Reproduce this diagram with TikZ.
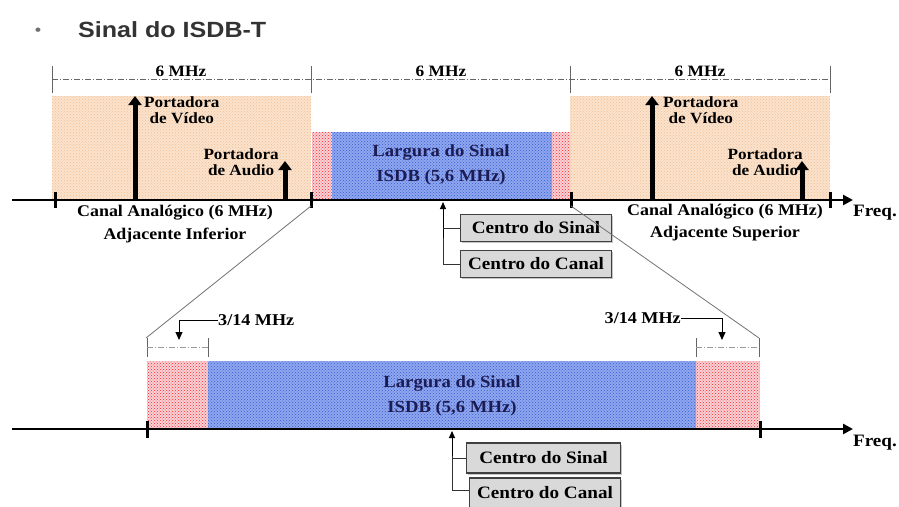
\documentclass[tikz,border=0pt]{standalone}
\usepackage{fontspec}
\setmainfont{Liberation Serif}[FakeStretch=1.1]
\newfontfamily\titlefont{Liberation Sans}[FakeStretch=1.14]
\usetikzlibrary{patterns,arrows.meta,shadows}
\definecolor{peach}{HTML}{FBE2CC}
\definecolor{peachdot}{HTML}{EFBF95}
\definecolor{sigblue}{HTML}{8EA7EE}
\definecolor{sigbluedot}{HTML}{3A5BD0}
\definecolor{pinkbase}{HTML}{F8D2D7}
\definecolor{navy}{HTML}{1C1C55}
\definecolor{boxgray}{HTML}{D9D9D9}
\definecolor{titlegray}{HTML}{333333}
\tikzset{
  lbl/.style={font=\bfseries\fontsize{15.6}{16}\selectfont, inner sep=0pt},
  biglbl/.style={font=\bfseries\fontsize{16.3}{16}\selectfont, inner sep=0pt},
  dimlbl/.style={font=\bfseries\fontsize{15.8}{15}\selectfont, inner sep=0pt},
  fraclbl/.style={font=\bfseries\fontsize{16.5}{16}\selectfont, inner sep=0pt},
  siglbl/.style={font=\bfseries\fontsize{17}{17}\selectfont, text=navy, inner sep=0pt},
  cbox/.style={draw=black!75, line width=1.1pt, fill=boxgray, minimum width=151pt, minimum height=27pt, inner sep=0pt,
     font=\bfseries\fontsize{17.4}{17}\selectfont, drop shadow={shadow xshift=1.5pt, shadow yshift=-1.5pt, fill=black!45}},
  axis/.style={line width=2.6pt, -{Triangle[length=10pt,width=10pt]}},
  axtick/.style={line width=3pt},
  carrier/.style={line width=5pt, -{Triangle[length=9pt,width=13pt]}},
  dimline/.style={draw=black!60, line width=0.9pt, dash pattern=on 6pt off 2pt on 1pt off 2pt},
  dimtick/.style={draw=black!60, line width=0.9pt},
  zoomline/.style={draw=black!55, line width=0.8pt},
  redstrip/.style={fill=pinkbase, postaction={pattern=crosshatch dots, pattern color=red!85}},
  bluebox/.style={fill=sigblue, postaction={pattern=crosshatch dots, pattern color=sigbluedot}},
  peachbox/.style={fill=peach, postaction={pattern=crosshatch dots, pattern color=peachdot}},
  thinarrow/.style={line width=1pt, -{Triangle[length=7pt,width=6pt]}},
  branch/.style={line width=0.9pt, draw=black!80},
  freqlbl/.style={font=\bfseries\fontsize{17.4}{17}\selectfont, inner sep=0pt},
}
\begin{document}
\begin{tikzpicture}[x=1pt,y=-1pt]
\useasboundingbox (0,0) rectangle (899,506);
% title
\node[text=titlegray!70, font=\titlefont\fontsize{16}{16}\selectfont, inner sep=0pt] (bul) at (38,32) {•};
\node[anchor=west, text=titlegray, font=\titlefont\bfseries\fontsize{22}{22}\selectfont, inner sep=0pt] (title) at (78,30) {Sinal do ISDB-T};

% shaded regions top
\path[peachbox] (52,96) rectangle (311,200);
\path[peachbox] (570,96) rectangle (830,200);
\path[redstrip] (312,132) rectangle (332,200);
\path[bluebox] (332,132) rectangle (552,200);
\path[redstrip] (552,132) rectangle (570,200);

% top dimension line
\coordinate (d0) at (52,79);
\coordinate (d1) at (311,79);
\coordinate (d2) at (570,79);
\coordinate (d3) at (830,79);
\draw[dimline] (d0) -- (d3);
\foreach \c in {d0,d1,d2,d3} \draw[dimtick] ([yshift=-14pt]\c) -- ([yshift=13pt]\c);
\node[dimlbl] (m1) at (181,71) {6 MHz};
\node[dimlbl] (m2) at (441,71) {6 MHz};
\node[dimlbl] (m3) at (700,71) {6 MHz};

% top axis
\coordinate (ax0) at (12,200);
\coordinate (ax1) at (853,200);
\draw[axis] (ax0) -- (ax1);
\node[freqlbl] (freq1) at (875,213) {Freq.};
\foreach \x in {55,311,571,830} \draw[axtick] (\x,192) -- (\x,208);

% carriers
\coordinate (v1b) at (135,200); \coordinate (v1t) at (135,96);
\coordinate (a1b) at (285,200); \coordinate (a1t) at (285,161);
\coordinate (v2b) at (652,200); \coordinate (v2t) at (652,96);
\coordinate (a2b) at (802,200); \coordinate (a2t) at (802,161);
\draw[carrier] (v1b) -- (v1t);
\draw[carrier] (a1b) -- (a1t);
\draw[carrier] (v2b) -- (v2t);
\draw[carrier] (a2b) -- (a2t);
\node[lbl, anchor=north west, align=center] (pv1) at (144,96) {Portadora\\de Vídeo};
\node[lbl, anchor=north east, align=center] (pa1) at (279,148) {Portadora\\de Audio};
\node[lbl, anchor=north west, align=center] (pv2) at (663,96) {Portadora\\de Vídeo};
\node[lbl, anchor=north east, align=center] (pa2) at (803,148) {Portadora\\de Audio};

% top labels
\node[biglbl] (ca1) at (175,213) {Canal Analógico (6 MHz)};
\node[biglbl] (ai1) at (175,235) {Adjacente Inferior};
\node[biglbl] (ca2) at (725,212) {Canal Analógico (6 MHz)};
\node[biglbl] (as2) at (725,234) {Adjacente Superior};
\node[siglbl] (ls1) at (441,152) {Largura do Sinal};
\node[siglbl] (is1) at (441,177) {ISDB (5,6 MHz)};

% top centre markers
\coordinate (c1) at (443,202);
\node[cbox, anchor=west] (cs1) at (460,228) {Centro do Sinal};
\node[cbox, anchor=west] (cc1) at (460,264) {Centro do Canal};
\draw[thinarrow] (443,238) -- (c1);
\draw[branch] (443,238) -- (443,264) -- (cc1.west);
\draw[branch] (443,228) -- (cs1.west);

% zoom lines
\coordinate (zl0) at (311,206);
\coordinate (zl1) at (146,338);
\coordinate (zr0) at (571,206);
\coordinate (zr1) at (759,338);
\draw[zoomline] (zl0) -- (zl1);
\draw[zoomline] (zr0) -- (zr1);

% bottom regions
\path[redstrip] (147,361) rectangle (208,429);
\path[bluebox] (208,361) rectangle (696,429);
\path[redstrip] (696,361) rectangle (760,429);

% bottom brackets
\coordinate (bl0) at (147,347); \coordinate (bl1) at (208,347);
\coordinate (br0) at (696,347); \coordinate (br1) at (759,347);
\draw[dimtick] (147,338) -- (147,357);
\draw[dimtick] (208,338) -- (208,357);
\draw[dimline, draw=black!40] (bl0) -- (bl1);
\draw[dimtick] (696,338) -- (696,357);
\draw[dimtick] (759,338) -- (759,357);
\draw[dimline, draw=black!40] (br0) -- (br1);
\node[fraclbl, anchor=west] (f1) at (218,320) {3/14 MHz};
\node[fraclbl, anchor=east] (f2) at (681,318) {3/14 MHz};
\draw[line width=1pt, -{Triangle[length=8pt,width=7pt]}] (f1.west) -- (179,320) -- (179,340);
\draw[line width=1pt, -{Triangle[length=8pt,width=7pt]}] (f2.east) -- (722,318) -- (722,340);

% bottom axis
\coordinate (bx0) at (12,429);
\coordinate (bx1) at (853,429);
\draw[axis] (bx0) -- (bx1);
\node[freqlbl] (freq2) at (875,443) {Freq.};
\foreach \x in {147,760} \draw[axtick] (\x,421) -- (\x,438);
\node[siglbl] (ls2) at (452,383) {Largura do Sinal};
\node[siglbl] (is2) at (452,408) {ISDB (5,6 MHz)};

% bottom centre markers
\coordinate (c2) at (452,431);
\node[cbox, anchor=west, minimum width=154pt, minimum height=30pt] (cs2) at (466,458) {Centro do Sinal};
\node[cbox, anchor=west, minimum width=151pt, minimum height=30pt] (cc2) at (469,493) {Centro do Canal};
\draw[thinarrow] (452,456) -- (c2);
\draw[branch] (452,456) -- (452,490) -- (cc2.west |- 0,490);
\draw[branch] (452,458) -- (cs2.west);
\end{tikzpicture}
\end{document}
